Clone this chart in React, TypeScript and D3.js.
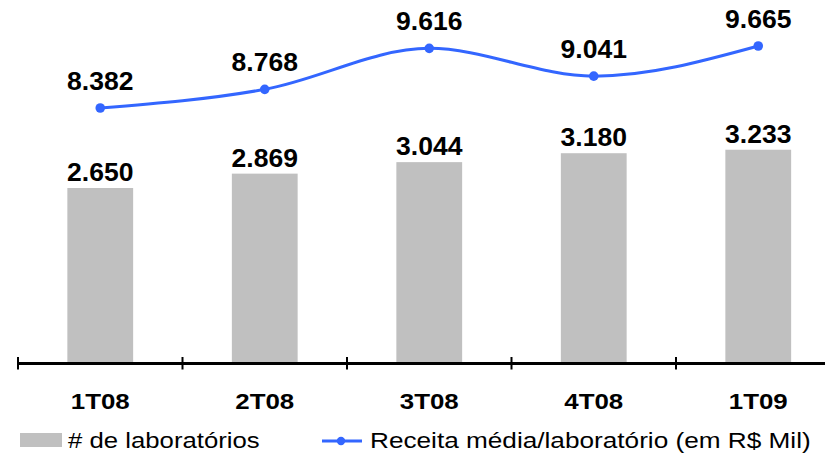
import React from "react";
import * as d3 from "d3";

const categories = ["1T08", "2T08", "3T08", "4T08", "1T09"];
const labCounts = [2650, 2869, 3044, 3180, 3233];
const avgRevenue = [8382, 8768, 9616, 9041, 9665];
const barLegend = "# de laboratórios";
const lineLegend = "Receita média/laboratório (em R$ Mil)";

const fmt = (v: number) => {
  const s = String(v);
  return s.length > 3 ? s.slice(0, s.length - 3) + "." + s.slice(s.length - 3) : s;
};

const W = 825;
const H = 454;
const BAR = "#C0C0C0";
const LINE = "#3366FF";
const FONT = "'Liberation Sans', Arial, sans-serif";

export default function App() {
  const x = d3.scaleBand<string>().domain(categories).range([18, 18 + 5 * 164.5]).padding(0);
  const bw = x.bandwidth();
  const barW = bw * 0.4;
  const yBar = d3.scaleLinear().domain([0, 3500]).range([362, 132.2]);
  const yLine = d3.scaleLinear().domain([6000, 10000]).range([223.1, 29.8]);
  const cx = (c: string) => (x(c) as number) + bw / 2;

  const pts = categories.map((c, i) => [cx(c), yLine(avgRevenue[i])] as [number, number]);
  const linePath = d3.line().curve(d3.curveMonotoneX)(pts) || "";
  const ticks = categories.map((c) => x(c) as number);

  return (
    <svg
      width={W}
      height={H}
      style={{ position: "absolute", left: 0, top: 0, background: "#fff" }}
      fontFamily={FONT}
    >
      {categories.map((c, i) => (
        <rect
          key={"b" + c}
          x={cx(c) - barW / 2}
          y={yBar(labCounts[i])}
          width={barW}
          height={yBar(0) - yBar(labCounts[i])}
          fill={BAR}
        />
      ))}
      {categories.map((c, i) => (
        <text
          key={"bl" + c}
          transform={`translate(${cx(c)},${yBar(labCounts[i]) - 7}) scale(1.04,1)`}
          textAnchor="middle"
          fontSize={25.5}
          fontWeight="bold"
          fill="#000"
        >
          {fmt(labCounts[i])}
        </text>
      ))}
      <line x1={18} x2={W} y1={363.5} y2={363.5} stroke="#000" strokeWidth={3} />
      {ticks.map((t, i) => (
        <line key={"t" + i} x1={t} x2={t} y1={357} y2={369.5} stroke="#000" strokeWidth={2} />
      ))}
      {categories.map((c) => (
        <text
          key={"c" + c}
          transform={`translate(${cx(c)},408.5) scale(1.15,1)`}
          textAnchor="middle"
          fontSize={22.5}
          fontWeight="bold"
          fill="#000"
        >
          {c}
        </text>
      ))}
      <path d={linePath} fill="none" stroke={LINE} strokeWidth={3} />
      {pts.map((p, i) => (
        <circle key={"p" + i} cx={p[0]} cy={p[1]} r={4.8} fill={LINE} />
      ))}
      {pts.map((p, i) => (
        <text
          key={"pl" + i}
          transform={`translate(${p[0]},${p[1] - 18}) scale(1.04,1)`}
          textAnchor="middle"
          fontSize={25.5}
          fontWeight="bold"
          fill="#000"
        >
          {fmt(avgRevenue[i])}
        </text>
      ))}
      <rect x={20} y={433} width={42} height={14} fill={BAR} />
      <text transform="translate(68,448) scale(1.17,1)" fontSize={22} fill="#000">
        {barLegend}
      </text>
      <line x1={322} x2={362} y1={441} y2={441} stroke={LINE} strokeWidth={3} />
      <circle cx={341} cy={441} r={4.2} fill={LINE} />
      <text transform="translate(370,448) scale(1.19,1)" fontSize={22} fill="#000">
        {lineLegend}
      </text>
    </svg>
  );
}
